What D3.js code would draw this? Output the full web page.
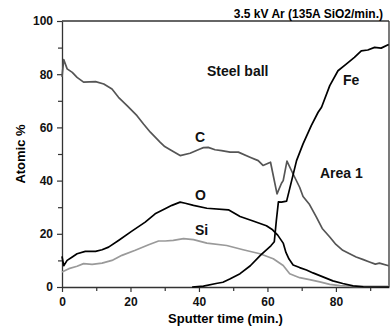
<!DOCTYPE html>
<html>
<head>
<meta charset="utf-8">
<script src="https://cdn.jsdelivr.net/npm/d3@7"></script>
<style>
  body { margin: 0; background: #fff; }
  text { font-family: "Liberation Sans", Arial, sans-serif; font-weight: bold; }
</style>
</head>
<body>
<div id="chart"></div>
<script>
// data, [time (min.), atomic %]
var carbon = [[0,79],[0.5,85.5],[1.5,82],[3,80.7],[4.4,78.8],[6.3,77],[9.8,77.2],[12.2,76.3],
  [14.6,74.4],[16.5,71.3],[19,68.2],[21.9,64.4],[23.8,61.3],[25.8,58.2],[28.7,54.4],[30,52.8],
  [31.6,51.6],[34.5,49.4],[37.4,50.3],[40.3,51.9],[41.3,52.4],[42.7,52.5],[44.7,51.6],[46.6,51.3],
  [49.1,50.7],[51.5,50.7],[54.9,48.8],[57.3,47.5],[58.7,45.7],[60.9,46.9],[62.8,35],[64.1,39],
  [64.6,40],[65.7,47.3],[67,43.8],[69.4,37.5],[70.4,34],[72.3,31],[74.3,26.3],[76,22],[78.2,18.8],
  [80,16],[82,13.8],[84,12.5],[85.9,11.3],[88,10.3],[89.8,9.4],[91.5,8.6],[92.7,9],[95.4,8]];

var oxygen = [[0,11.5],[0.5,8],[1.5,10],[3,11.3],[4.4,12.5],[6.8,13.4],[9.8,13.4],[11.7,14],
  [13.6,15],[16.5,17.5],[20.4,21],[24.3,24.4],[27.2,27.5],[30.1,29.4],[32.1,30.7],[34.5,31.9],
  [36,31.5],[38.4,30.7],[42.3,29.6],[48.6,29],[52,26.5],[55.8,24.8],[59.7,23],[61.5,21.5],
  [63,19.5],[64.6,16.5],[65.4,13],[66.3,10.5],[67.5,8.3],[69.4,7.3],[71.4,6.4],[73.3,5.3],
  [76.2,3.8],[79.1,2.3],[82,1.3],[85,0.4],[88,0.1],[95.5,0]];

var silicon = [[0,5.6],[2,6.9],[4.4,7.8],[6.3,8.8],[8.8,8.5],[11.7,9],[14.6,10],[17.5,11.9],
  [21.4,13.8],[25.3,15.9],[28.2,17.3],[30.1,17.3],[32.5,17.5],[35.5,18.2],[38.4,17.8],[42.3,16.5],
  [48.1,15.6],[52.9,14],[57.8,12.5],[61.7,10.6],[64.6,8.1],[66.5,5],[69.4,3.5],[72.3,2.8],
  [75.3,1.9],[78.2,1],[81.1,0.5],[85,0.2],[95.5,0.2]];

var iron = [[38,0],[41.3,0.3],[45,1.3],[47,1.8],[49,3],[52,5],[55,8],[58,12],[61,15.5],[62,17],
  [62.6,25],[63.2,32],[64.1,31.9],[65.6,32.3],[66.5,37],[68.5,47.5],[70.4,53.8],[72.8,60.7],
  [74.8,65.7],[75.8,67.6],[78.2,75.7],[80.6,81.3],[83,83.8],[85.4,86.3],[87.4,88.8],[89.3,89.1],
  [91.3,90.1],[93.2,89.8],[95.4,91.2]];

var xTicks = [0, 20, 40, 60, 80];
var xMinor = [10, 30, 50, 70, 90];
var yTicks = [0, 20, 40, 60, 80, 100];
var yMinor = [10, 30, 50, 70, 90];

var margin = {top: 21, right: 3, bottom: 42, left: 62};
var width = 392 - margin.left - margin.right,
    height = 329 - margin.top - margin.bottom;

var svg = d3.select("#chart")
  .append("svg")
    .attr("width", width + margin.left + margin.right)
    .attr("height", height + margin.top + margin.bottom)
  .append("g")
    .attr("transform", "translate(" + margin.left + "," + margin.top + ")");

var x = d3.scaleLinear().domain([0, 95.5]).range([0, width]);
var y = d3.scaleLinear().domain([0, 100]).range([height, 0]);

// minor ticks first, then the labelled axes on top
svg.append("g")
  .attr("transform", "translate(0," + height + ")")
  .call(d3.axisBottom(x).tickValues(xMinor).tickSize(4).tickFormat(""))
  .call(function(g) { g.select(".domain").remove(); });
svg.append("g")
  .call(d3.axisLeft(y).tickValues(yMinor).tickSize(4).tickFormat(""))
  .call(function(g) { g.select(".domain").remove(); });

var xAxis = svg.append("g")
  .attr("transform", "translate(0," + height + ")")
  .call(d3.axisBottom(x).tickValues(xTicks).tickSize(5).tickPadding(5).tickSizeOuter(0));
var yAxis = svg.append("g")
  .call(d3.axisLeft(y).tickValues(yTicks).tickSize(5).tickPadding(4).tickSizeOuter(0));

svg.selectAll(".tick line").attr("stroke", "#333").attr("stroke-width", 1.2);
svg.selectAll(".domain").attr("stroke", "#333").attr("stroke-width", 1.3);
svg.selectAll(".tick text")
  .style("font-size", "12px")
  .style("font-weight", "bold")
  .style("font-family", "'Liberation Sans', Arial, sans-serif")
  .attr("fill", "#111");

// frame top + right
svg.append("line").attr("x1", 0).attr("x2", width).attr("y1", 0).attr("y2", 0)
  .attr("stroke", "#333").attr("stroke-width", 1.3);
svg.append("line").attr("x1", width).attr("x2", width).attr("y1", 0).attr("y2", height)
  .attr("stroke", "#333").attr("stroke-width", 1.3);

var line = d3.line()
  .x(function(d) { return x(d[0]); })
  .y(function(d) { return y(d[1]); });

var series = [
  {data: silicon, color: "#9a9a9a"},
  {data: carbon, color: "#555555"},
  {data: oxygen, color: "#000000"},
  {data: iron, color: "#000000"}
];

svg.selectAll("path.curve")
  .data(series)
  .enter()
  .append("path")
    .attr("class", "curve")
    .attr("d", function(d) { return line(d.data); })
    .attr("fill", "none")
    .attr("stroke", function(d) { return d.color; })
    .attr("stroke-width", 1.7)
    .attr("stroke-linejoin", "round");

// axis titles
svg.append("text")
  .attr("x", width / 2)
  .attr("y", height + 36)
  .style("text-anchor", "middle")
  .style("font-size", "13px")
  .text("Sputter time (min.)");

svg.append("text")
  .attr("transform", "rotate(-90)")
  .attr("x", -height / 2)
  .attr("y", -37)
  .style("text-anchor", "middle")
  .style("font-size", "13px")
  .text("Atomic %");

svg.append("text")
  .attr("x", 383 - margin.left)
  .attr("y", 18 - margin.top)
  .style("text-anchor", "end")
  .style("font-size", "12px")
  .text("3.5 kV Ar (135A SiO2/min.)");

// curve labels
var notes = [
  {t: "Steel ball", px: 207, py: 76},
  {t: "Fe", px: 343, py: 85},
  {t: "C", px: 195, py: 142},
  {t: "O", px: 195, py: 199.5},
  {t: "Si", px: 195, py: 235},
  {t: "Area 1", px: 320, py: 178}
];
svg.selectAll("text.note")
  .data(notes)
  .enter()
  .append("text")
    .attr("class", "note")
    .attr("x", function(d) { return d.px - margin.left; })
    .attr("y", function(d) { return d.py - margin.top; })
    .style("font-size", "14px")
    .attr("fill", "#111")
    .text(function(d) { return d.t; });
</script>
</body>
</html>
